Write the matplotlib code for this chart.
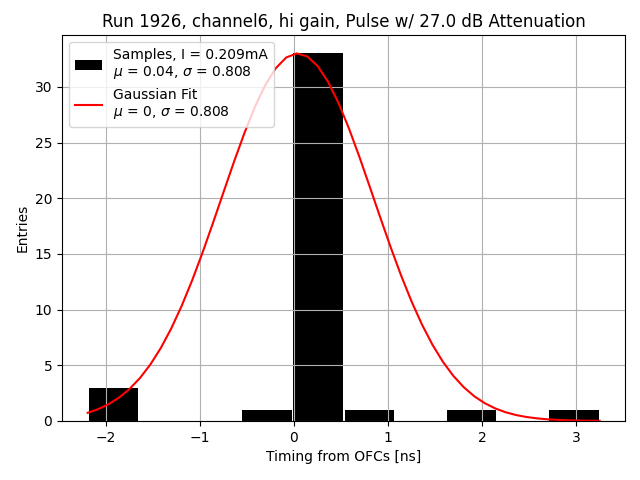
import numpy as np
import matplotlib
matplotlib.use("Agg")
import matplotlib.pyplot as plt

# histogram of timing samples
bin_edges = np.linspace(-2.19, 3.25, 11)
counts = np.array([3, 0, 0, 1, 33, 1, 0, 1, 0, 1])

# fit parameters
fit_amp = 33.0
fit_mu = 0.04
fit_sigma = 0.808
sample_mu = 0.04
sample_sigma = 0.808
current = 0.209

centers = 0.5 * (bin_edges[:-1] + bin_edges[1:])

fig, ax = plt.subplots(figsize=(6.4, 4.8), dpi=100)
ax.hist(centers, bins=bin_edges, weights=counts, rwidth=0.965, color='black',
        label=f"Samples, I = {current}mA\n$\\mu$ = {sample_mu}, $\\sigma$ = {sample_sigma}")

xx = np.linspace(bin_edges[0], bin_edges[-1], 50)
yy = fit_amp * np.exp(-(xx - fit_mu) ** 2 / (2 * fit_sigma ** 2))
ax.plot(xx, yy, 'r-',
        label=f"Gaussian Fit\n$\\mu$ = {fit_mu:.0f}, $\\sigma$ = {fit_sigma}")

ax.set_title("Run 1926, channel6, hi gain, Pulse w/ 27.0 dB Attenuation")
ax.set_xlabel("Timing from OFCs [ns]")
ax.set_ylabel("Entries")
ax.legend(loc='upper left')
ax.grid(True)
fig.subplots_adjust(left=0.097, right=0.977, top=0.927, bottom=0.123)
fig.savefig("out.png")
